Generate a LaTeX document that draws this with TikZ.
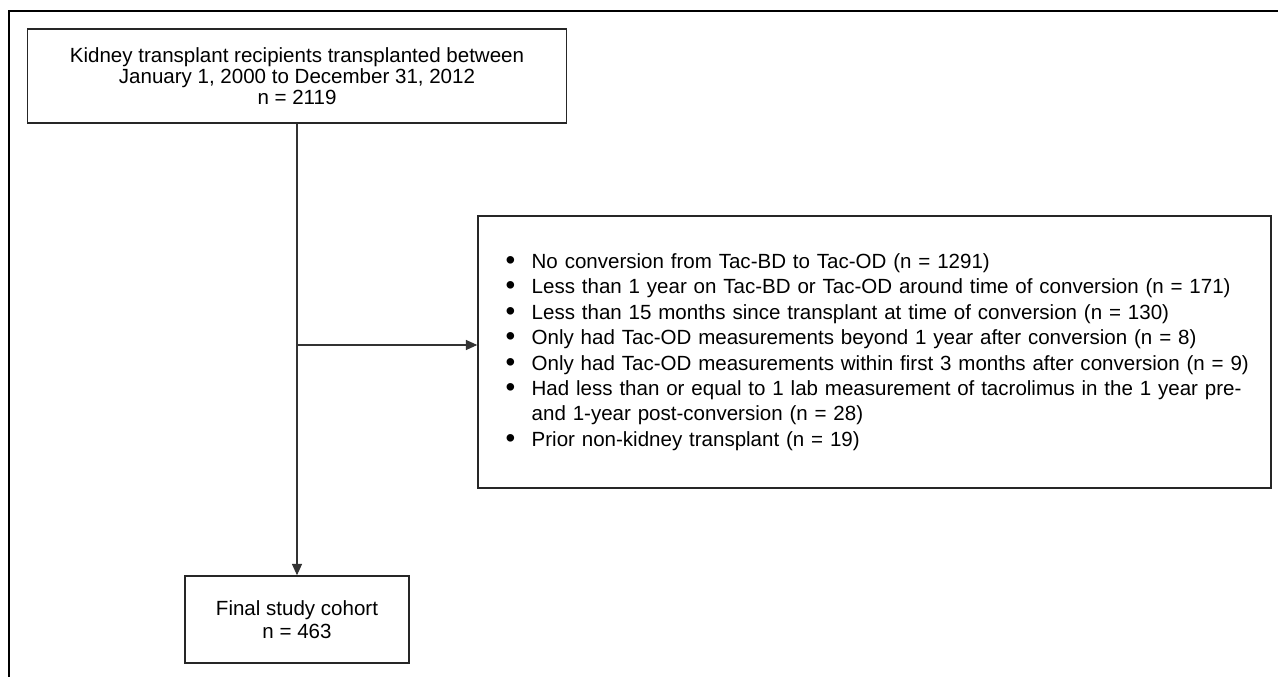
\documentclass[tikz,border=0pt]{standalone}
\usepackage{fontspec}
\setmainfont{Liberation Sans}
\usetikzlibrary{arrows.meta,positioning,calc}

\newcommand{\bul}{\makebox[19.5pt][l]{\raisebox{-0.12ex}{\scalebox{1.35}{\textbullet}}}}
\newcommand{\cont}{\hspace*{19.5pt}}

\begin{document}
\begin{tikzpicture}[x=0.75pt, y=-0.75pt,
    box/.style={draw=black!85, line width=1.1pt, inner sep=0pt},
    flow/.style={draw=black!80, line width=0.8pt, -{Triangle[length=8.5pt,width=7.5pt]}},
    frame/.style={draw=black, line width=1.5pt}]
    \useasboundingbox (0,0) rectangle (1278,677);

    % outer frame, only top and left edge visible
    \draw[frame] (9,677) -- (9,11) -- (1278,11);

    \node[box, minimum width=404.25pt, minimum height=70.5pt, align=center,
          font=\fontsize{15.4}{16}\selectfont] (recip) at (297,76)
        {Kidney transplant recipients transplanted between\\
         January 1, 2000 to December 31, 2012\\
         n = 2119};

    \node[box, minimum width=594.75pt, minimum height=204pt, text width=553.25pt,
          align=left, inner xsep=20.75pt, font=\fontsize{15.4}{19.1}\selectfont] (excl) at (874.5,352)
        {\bul No conversion from Tac-BD to Tac-OD (n = 1291)\\
         \bul Less than 1 year on Tac-BD or Tac-OD around time of conversion (n = 171)\\
         \bul Less than 15 months since transplant at time of conversion (n = 130)\\
         \bul Only had Tac-OD measurements beyond 1 year after conversion (n = 8)\\
         \mbox{\bul Only had Tac-OD measurements within first 3 months after conversion (n = 9)}\\
         \bul Had less than or equal to 1 lab measurement of tacrolimus in the 1 year pre-\\
         \cont and 1-year post-conversion (n = 28)\\
         \bul Prior non-kidney transplant (n = 19)};

    \node[box, minimum width=168pt, minimum height=65.25pt, align=center,
          font=\fontsize{15.4}{17}\selectfont] (cohort) at (297,619.5)
        {Final study cohort\\
         n = 463};

    \coordinate (split) at (297,345);

    \draw[flow] (recip.south) -- (cohort.north);
    \draw[flow] (split) -- (split -| excl.west);

\end{tikzpicture}
\end{document}
